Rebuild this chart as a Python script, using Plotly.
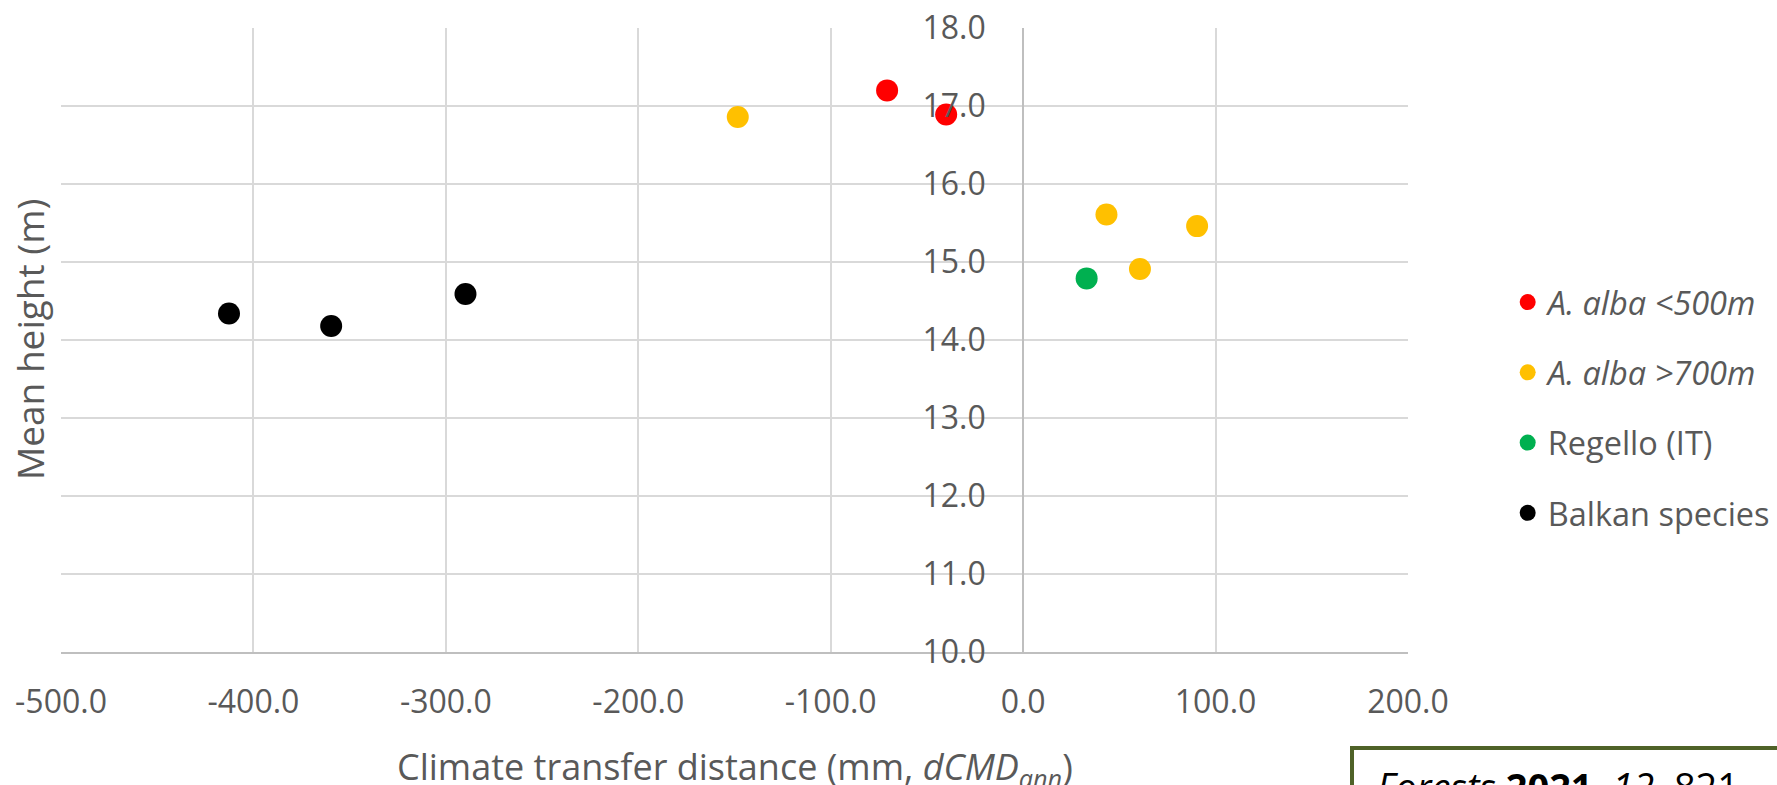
import plotly.graph_objects as go

# Data
low_x = [-70.7, -40.0]
low_y = [17.20, 16.89]
high_x = [-148.3, 43.3, 90.4, 60.7]
high_y = [16.86, 15.61, 15.46, 14.91]
reg_x = [33.0]
reg_y = [14.79]
balk_x = [-412.7, -359.6, -289.8]
balk_y = [14.34, 14.18, 14.59]

x_ticks = [-500, -400, -300, -200, -100, 0, 100, 200]
x_tick_labels = ["-500.0", "-400.0", "-300.0", "-200.0", "-100.0", "0.0", "100.0", "200.0"]
y_ticks = [10, 11, 12, 13, 14, 15, 16, 17, 18]
y_tick_labels = ["10.0", "11.0", "12.0", "13.0", "14.0", "15.0", "16.0", "17.0", "18.0"]

series = [
    ("<i>A. alba &lt;500m</i>", low_x, low_y, "#FF0000"),
    ("<i>A. alba &gt;700m</i>", high_x, high_y, "#FFC000"),
    ("Regello (IT)", reg_x, reg_y, "#00B050"),
    ("Balkan species", balk_x, balk_y, "#000000"),
]

x_range = [-500, 200]
y_range = [10, 18]
FONT = "Open Sans"
GREY = "#595959"

fig = go.Figure()
for i, (name, xs, ys, col) in enumerate(series):
    fig.add_trace(go.Scatter(
        x=xs, y=ys, mode="markers", name=name, legendgroup=f"g{i}",
        marker=dict(color=col, size=22, line=dict(width=0)),
    ))

W, H = 1777, 785
L, R, T, B = 61, 369, 28, 133

fig.update_layout(
    width=W, height=H,
    margin=dict(l=L, r=R, t=T, b=B, pad=0, autoexpand=False),
    paper_bgcolor="white", plot_bgcolor="white",
    font=dict(family=FONT, color=GREY),
    showlegend=True,
    legend=dict(
        x=1.074, y=0.605, xanchor="left", yanchor="top",
        font=dict(family=FONT, size=32.5, color=GREY),
        tracegroupgap=25, bgcolor="rgba(0,0,0,0)",
        itemsizing="trace",
    ),
    xaxis=dict(
        range=x_range, tickvals=x_ticks, ticktext=x_tick_labels,
        automargin=False,
        showgrid=True, gridcolor="#D9D9D9", gridwidth=2,
        zeroline=False, showline=True, linecolor="#BFBFBF", linewidth=2,
        ticks="", tickfont=dict(family=FONT, size=32, color=GREY),
        ticklabelstandoff=21,
    ),
    yaxis=dict(
        range=y_range, tickvals=y_ticks, ticktext=y_tick_labels,
        automargin=False,
        showgrid=True, gridcolor="#D9D9D9", gridwidth=2,
        zeroline=False, showline=True, linecolor="#BFBFBF", linewidth=2,
        anchor="free", position=(0 - x_range[0]) / (x_range[1] - x_range[0]),
        ticks="", tickfont=dict(family=FONT, size=32, color=GREY),
        ticklabelstandoff=30,
    ),
)

pw, ph = W - L - R, H - T - B
def px_x(p):
    return (p - L) / pw
def px_y(p):
    return (H - B - p) / ph

# x-axis title below the tick labels
fig.add_annotation(
    text="Climate transfer distance (mm, <i>dCMD</i><sub><i>ann</i></sub>)",
    xref="paper", yref="paper", x=0.5, y=px_y(768),
    xanchor="center", yanchor="middle", showarrow=False,
    font=dict(family=FONT, size=36, color=GREY),
)

# y-axis title placed at the left edge of the chart
fig.add_annotation(
    text="Mean height (m)", textangle=-90,
    xref="paper", yref="paper", x=px_x(29), y=0.5,
    xanchor="center", yanchor="middle", showarrow=False,
    font=dict(family=FONT, size=37, color=GREY),
)

# Citation box (cut off at the bottom edge)
fig.add_shape(
    type="rect", xref="paper", yref="paper",
    x0=px_x(1352), x1=px_x(1800), y0=px_y(748), y1=px_y(820),
    line=dict(color="#4F6228", width=4), fillcolor="white", layer="above",
)
fig.add_annotation(
    text="<i>Forests</i> <b>2021</b>, <i>12</i>, 821",
    xref="paper", yref="paper", x=px_x(1375), y=px_y(758),
    xanchor="left", yanchor="top", showarrow=False,
    font=dict(family=FONT, size=38, color="#000000"),
)

fig.write_html("out.html")
